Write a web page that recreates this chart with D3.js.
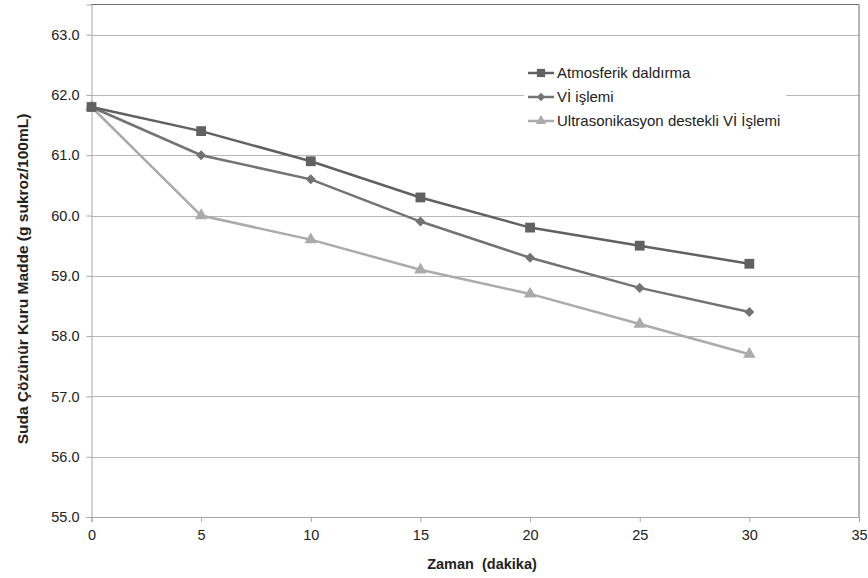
<!DOCTYPE html>
<html>
<head>
<meta charset="utf-8">
<script src="https://cdn.jsdelivr.net/npm/d3@7"></script>
<style>
  body { margin: 0; background: #fff; }
  text { font-family: "Liberation Sans", Arial, sans-serif; }
</style>
</head>
<body>
<svg id="chart" width="868" height="578"></svg>
<script>
const times = [0, 5, 10, 15, 20, 25, 30];
const atmosferik = [61.8, 61.4, 60.9, 60.3, 59.8, 59.5, 59.2];
const viIslemi = [61.8, 61.0, 60.6, 59.9, 59.3, 58.8, 58.4];
const ultrasonik = [61.8, 60.0, 59.6, 59.1, 58.7, 58.2, 57.7];
const seriesNames = ['Atmosferik daldırma', 'Vİ işlemi', 'Ultrasonikasyon destekli Vİ İşlemi'];
const xTicks = [0, 5, 10, 15, 20, 25, 30, 35];
const yTicks = [55, 56, 57, 58, 59, 60, 61, 62, 63];

const series = [
  { name: seriesNames[0], values: atmosferik, color: '#616161', symbol: d3.symbolSquare, size: 96 },
  { name: seriesNames[1], values: viIslemi, color: '#737373', symbol: d3.symbolDiamond2, size: 64 },
  { name: seriesNames[2], values: ultrasonik, color: '#ababab', symbol: d3.symbolTriangle, size: 68 },
];

const margin = { left: 91.5, right: 9, top: 4.5, bottom: 61 };
const W = 868, H = 578;
const svg = d3.select('#chart');

const x = d3.scaleLinear().domain([0, 35]).range([margin.left, W - margin.right]);
const y = d3.scaleLinear().domain([55, 63.5]).range([H - margin.bottom, margin.top]);

// gridlines
svg.append('g')
  .selectAll('line')
  .data(yTicks.slice(1))
  .join('line')
  .attr('x1', margin.left).attr('x2', W - margin.right)
  .attr('y1', d => Math.round(y(d)) + 0.5).attr('y2', d => Math.round(y(d)) + 0.5)
  .attr('stroke', '#b8b8b8').attr('stroke-width', 1);

// frame top/right
svg.append('path')
  .attr('d', `M${margin.left},${margin.top}H${W - margin.right}V${H - margin.bottom}`)
  .attr('fill', 'none').attr('stroke', '#6e6e6e').attr('stroke-width', 1);

// axes
const yAxis = svg.append('g')
  .attr('transform', `translate(${margin.left},0)`)
  .call(d3.axisLeft(y).tickValues(yTicks).tickFormat(d3.format('.1f')).tickSizeOuter(0).tickSize(5).tickPadding(7));
const xAxis = svg.append('g')
  .attr('transform', `translate(0,${H - margin.bottom})`)
  .call(d3.axisBottom(x).tickValues(xTicks).tickSizeOuter(0).tickSize(5).tickPadding(8));
[yAxis, xAxis].forEach(a => {
  a.select('.domain').attr('stroke', '#a6a6a6');
  a.selectAll('.tick line').attr('stroke', '#a6a6a6');
  a.selectAll('text').attr('font-size', 14.5).attr('fill', '#222')
    .attr('font-family', '"Liberation Sans", Arial, sans-serif');
});

// lines & markers (drawn bottom series first)
const line = d3.line().x((d, i) => x(times[i])).y(d => y(d));
series.slice().reverse().forEach(s => {
  svg.append('path')
    .attr('d', line(s.values))
    .attr('fill', 'none').attr('stroke', s.color).attr('stroke-width', 2.5);
  svg.append('g').selectAll('path')
    .data(s.values)
    .join('path')
    .attr('transform', (d, i) => `translate(${x(times[i])},${y(d)})`)
    .attr('d', d3.symbol(s.symbol, s.size))
    .attr('fill', s.color);
});

// legend
const legend = svg.append('g').attr('transform', 'translate(524,60)');
legend.append('rect').attr('x', 0).attr('y', 0).attr('width', 262).attr('height', 74).attr('fill', '#fff');
series.forEach((s, i) => {
  const g = legend.append('g').attr('transform', `translate(4,${13 + i * 24})`);
  g.append('line').attr('x1', 0).attr('x2', 26).attr('stroke', s.color).attr('stroke-width', 2.5);
  g.append('path').attr('transform', 'translate(13,0)').attr('d', d3.symbol(s.symbol, s.size * 0.7)).attr('fill', s.color);
  g.append('text').attr('x', 29).attr('dy', '0.35em').attr('font-size', 15).attr('fill', '#222').text(s.name);
});

// axis titles
svg.append('text')
  .attr('x', 482).attr('y', 569)
  .attr('text-anchor', 'middle').attr('font-size', 14.5).attr('font-weight', 'bold').attr('fill', '#222')
  .style('white-space', 'pre')
  .text('Zaman  (dakika)');
svg.append('text')
  .attr('transform', 'translate(28,279) rotate(-90)')
  .attr('text-anchor', 'middle').attr('font-size', 15.5).attr('font-weight', 'bold').attr('fill', '#222')
  .text('Suda Çözünür Kuru Madde (g sukroz/100mL)');
</script>
</body>
</html>
